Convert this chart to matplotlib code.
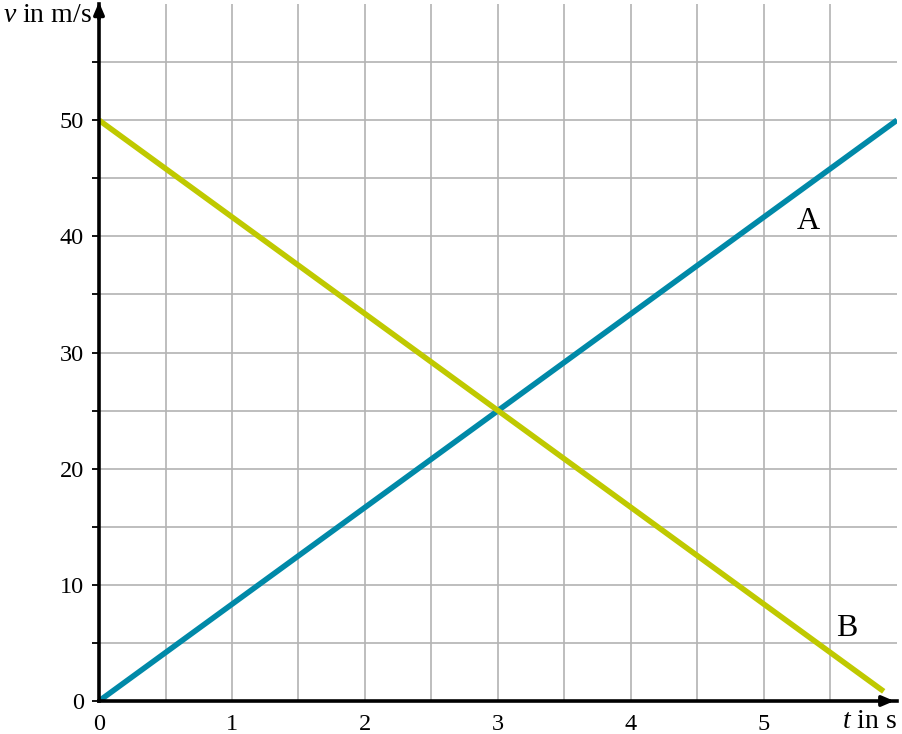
import numpy as np
import matplotlib.pyplot as plt

plt.rcParams["font.family"] = ["Liberation Serif", "DejaVu Serif"]
plt.rcParams["mathtext.fontset"] = "custom"
plt.rcParams["mathtext.it"] = "Liberation Serif:italic"
plt.rcParams["mathtext.rm"] = "Liberation Serif"

# data
t_a = [0, 6]
v_a = [0, 50]
t_b = [0, 5.9]
v_b = [50, 0.83]

x_ticks = [0, 1, 2, 3, 4, 5]
y_ticks = [0, 10, 20, 30, 40, 50]

blue = "#0089a8"
green = "#bfc900"

fig = plt.figure(figsize=(9.02, 7.34), dpi=100)
ax = fig.add_axes([99 / 902, 33 / 734, 798 / 902, 697 / 734])
ax.set_xlim(0, 6)
ax.set_ylim(0, 60)

# grid
for gx in np.arange(0.5, 5.51, 0.5):
    ax.axvline(gx, color="#b3b3b3", lw=1.2, zorder=1)
for gy in np.arange(5, 55.01, 5):
    ax.axhline(gy, color="#b3b3b3", lw=1.2, zorder=1)

ax.plot(t_a, v_a, color=blue, lw=4.0, solid_capstyle="butt", zorder=3)
ax.plot(t_b, v_b, color=green, lw=4.0, solid_capstyle="butt", zorder=3)

ax.text(5.33, 41.3, "A", fontsize=23, ha="center", va="center")
ax.text(5.62, 6.2, "B", fontsize=23, ha="center", va="center")

# axes
for s in ["top", "right"]:
    ax.spines[s].set_visible(False)
ax.spines["left"].set_linewidth(2.6)
ax.spines["bottom"].set_linewidth(2.6)
ax.spines["left"].set_zorder(4)
ax.spines["bottom"].set_zorder(4)
ax.annotate("", xy=(0, 60.4), xytext=(0, 58.5), xycoords="data",
            arrowprops=dict(arrowstyle="-|>,head_length=0.7,head_width=0.3",
                            color="black", lw=2.6), annotation_clip=False)
ax.annotate("", xy=(6.0, 0), xytext=(5.85, 0), xycoords="data",
            arrowprops=dict(arrowstyle="-|>,head_length=0.7,head_width=0.3",
                            color="black", lw=2.6), annotation_clip=False)

ax.set_xticks(x_ticks)
ax.set_xticklabels([str(v) for v in x_ticks], fontsize=17.5)
ax.set_yticks(y_ticks)
ax.set_yticklabels([str(v) for v in y_ticks], fontsize=17.5)
ax.tick_params(axis="x", length=0, pad=9)
ax.tick_params(axis="y", length=5, width=1.3, pad=6)
ax.set_yticks(np.arange(5, 60, 10), minor=True)
ax.tick_params(axis="y", which="minor", length=5, width=1.3, direction="out")
ax.tick_params(axis="x", which="minor", length=0)

fig.text(92 / 902, 1 - 15 / 734, r"$v$ in m/s", fontsize=20, ha="right", va="center")
fig.text(897 / 902, 1 - 721 / 734, r"$t$ in s", fontsize=20, ha="right", va="center")

fig.savefig("out.png", dpi=100)
